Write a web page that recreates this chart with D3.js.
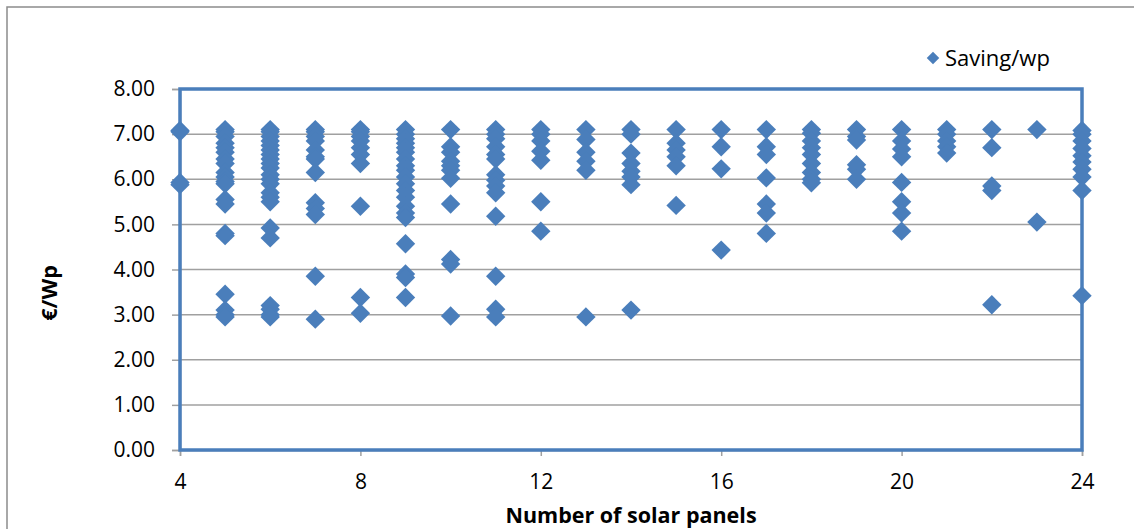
<!DOCTYPE html>
<html>
<head>
<meta charset="utf-8">
<script src="https://cdn.jsdelivr.net/npm/d3@7"></script>
<style>
  html, body { margin: 0; padding: 0; background: #fff; }
  svg { display: block; }
  text { font-family: "Open Sans", "Noto Sans", sans-serif; fill: #000; }
</style>
</head>
<body>
<svg id="chart" width="1134" height="529"></svg>
<script>
// Number of solar panels on each roof (x categories)
const panelCounts = [4, 5, 6, 7, 8, 9, 10, 11, 12, 13, 14, 15, 16, 17, 18, 19, 20, 21, 22, 23, 24];

// Saving per watt-peak (€/Wp) for every installation, grouped by panel count
const savingsByCount = [
  [7.08, 7.05, 5.93, 5.88],
  [7.1, 7.05, 6.95, 6.8, 6.7, 6.6, 6.45, 6.35, 6.15, 6.05, 5.95, 5.9, 5.55, 5.45, 4.8, 4.75, 3.45, 3.1, 3.0, 2.95],
  [7.1, 7.05, 6.95, 6.85, 6.75, 6.65, 6.55, 6.45, 6.35, 6.25, 6.1, 6.0, 5.9, 5.7, 5.6, 5.5, 4.92, 4.7, 3.2, 3.12, 3.0, 2.95],
  [7.1, 7.05, 6.95, 6.85, 6.65, 6.5, 6.45, 6.15, 5.48, 5.35, 5.22, 3.85, 2.9],
  [7.1, 7.05, 6.95, 6.85, 6.7, 6.55, 6.35, 5.4, 3.38, 3.03],
  [7.1, 7.0, 6.9, 6.8, 6.7, 6.6, 6.45, 6.3, 6.2, 6.05, 5.9, 5.75, 5.6, 5.4, 5.25, 5.15, 4.57, 3.9, 3.82, 3.38],
  [7.1, 6.72, 6.6, 6.4, 6.3, 6.2, 6.02, 5.45, 4.22, 4.12, 2.97],
  [7.1, 7.0, 6.9, 6.72, 6.55, 6.45, 6.1, 5.98, 5.85, 5.7, 5.18, 3.85, 3.12, 2.95],
  [7.1, 7.0, 6.85, 6.62, 6.42, 5.5, 4.85],
  [7.1, 6.88, 6.6, 6.4, 6.2, 2.95],
  [7.1, 7.0, 6.58, 6.35, 6.18, 6.05, 5.88, 3.1],
  [7.1, 6.8, 6.65, 6.5, 6.3, 5.42],
  [7.1, 6.72, 6.23, 4.43],
  [7.1, 6.72, 6.55, 6.03, 5.45, 5.25, 4.8],
  [7.1, 7.02, 6.85, 6.7, 6.55, 6.35, 6.15, 6.0, 5.92],
  [7.1, 6.95, 6.87, 6.32, 6.22, 6.0],
  [7.1, 6.85, 6.67, 6.5, 5.93, 5.5, 5.25, 4.85],
  [7.1, 7.0, 6.85, 6.72, 6.58],
  [7.1, 6.7, 5.85, 5.75, 3.22],
  [7.1, 5.05],
  [7.08, 7.0, 6.85, 6.68, 6.52, 6.38, 6.22, 6.05, 5.75, 3.42]
];

const xTicks = [4, 8, 12, 16, 20, 24];
const yTicks = [0, 1, 2, 3, 4, 5, 6, 7, 8];
const seriesName = "Saving/wp";
const xTitle = "Number of solar panels";
const yTitle = "€/Wp";

const points = [];
panelCounts.forEach((n, i) => savingsByCount[i].forEach(v => points.push({ n, v })));

const svg = d3.select("#chart");
const plot = { left: 180, right: 1082, top: 89, bottom: 450 };
const blue = "#4a7ebb";
const grey = "#a0a0a0";

const x = d3.scaleLinear().domain([4, 24]).range([plot.left, plot.right]);
const y = d3.scaleLinear().domain([0, 8]).range([plot.bottom, plot.top]);

// Outer chart frame
svg.append("rect")
  .attr("x", 7).attr("y", 7).attr("width", 1160).attr("height", 560)
  .attr("fill", "none").attr("stroke", "#8c8c8c").attr("stroke-width", 1.5);

// Horizontal gridlines
svg.append("g")
  .selectAll("line")
  .data(yTicks.filter(t => t > 0 && t < 8))
  .join("line")
  .attr("x1", plot.left).attr("x2", plot.right)
  .attr("y1", d => y(d)).attr("y2", d => y(d))
  .attr("stroke", grey).attr("stroke-width", 1.5);

// Y axis
const yAxis = svg.append("g")
  .attr("transform", `translate(${plot.left},0)`)
  .call(d3.axisLeft(y).tickValues(yTicks).tickFormat(d3.format(".2f")).tickSize(8).tickPadding(17));
yAxis.select(".domain").attr("stroke", grey).attr("stroke-width", 1.5);
yAxis.selectAll(".tick line").attr("stroke", grey).attr("stroke-width", 1.5);
yAxis.selectAll(".tick text")
  .style("font-family", "'Open Sans', sans-serif").style("font-size", "21px").attr("fill", "#000");

// X axis
const xAxis = svg.append("g")
  .attr("transform", `translate(0,${plot.bottom})`)
  .call(d3.axisBottom(x).tickValues(xTicks).tickFormat(d3.format("d")).tickSize(6).tickPadding(18));
xAxis.select(".domain").attr("stroke", grey).attr("stroke-width", 1.5);
xAxis.selectAll(".tick line").attr("stroke", grey).attr("stroke-width", 1.5);
xAxis.selectAll(".tick text")
  .style("font-family", "'Open Sans', sans-serif").style("font-size", "21px").attr("fill", "#000");

// Plot-area border
svg.append("rect")
  .attr("x", plot.left).attr("y", plot.top)
  .attr("width", plot.right - plot.left).attr("height", plot.bottom - plot.top)
  .attr("fill", "none").attr("stroke", blue).attr("stroke-width", 3.5);

// Diamond markers
const diamond = d3.symbol().type(d3.symbolDiamond2).size(240);
svg.append("g")
  .selectAll("path")
  .data(points)
  .join("path")
  .attr("d", diamond)
  .attr("transform", d => `translate(${x(d.n)},${y(d.v)})`)
  .attr("fill", blue);

// Axis titles
svg.append("text")
  .attr("x", (plot.left + plot.right) / 2).attr("y", 523)
  .attr("text-anchor", "middle")
  .style("font-size", "21.5px").style("font-weight", "bold")
  .text(xTitle);

svg.append("text")
  .attr("transform", "translate(57,293) rotate(-90)")
  .attr("text-anchor", "middle")
  .style("font-size", "21.5px").style("font-weight", "bold")
  .text(yTitle);

// Legend
const legend = svg.append("g").attr("transform", "translate(933,58)");
legend.append("path")
  .attr("d", d3.symbol().type(d3.symbolDiamond2).size(100))
  .attr("fill", blue);
legend.append("text")
  .attr("x", 12).attr("y", 8)
  .style("font-size", "22px")
  .text(seriesName);
</script>
</body>
</html>
